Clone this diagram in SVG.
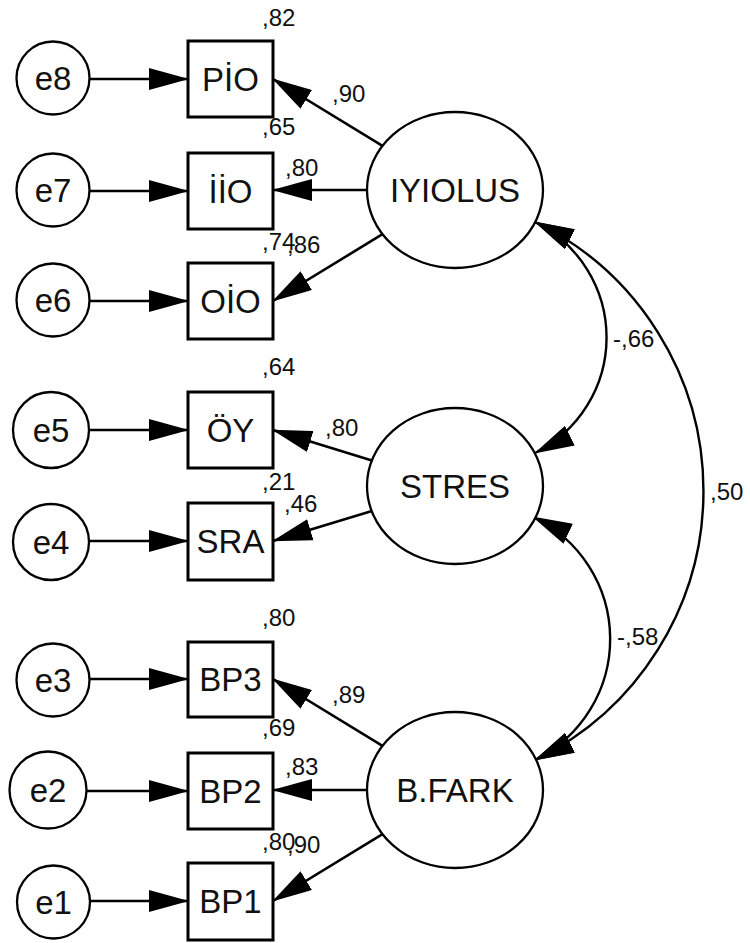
<svg xmlns="http://www.w3.org/2000/svg" width="750" height="943" viewBox="0 0 750 943">
<style>
.bg{fill:#fff}
.err{fill:#fff;stroke:#000;stroke-width:2.3}
.box{fill:#fff;stroke:#000;stroke-width:3}
.lat{fill:#fff;stroke:#000;stroke-width:2.3}
.lbl{font-family:"Liberation Sans",Arial,sans-serif;font-size:33px;fill:#111;text-anchor:middle}
.num{font-family:"Liberation Sans",Arial,sans-serif;font-size:24px;fill:#111}
.ln{fill:none;stroke:#000;stroke-width:2.6}
.cv{fill:none;stroke:#000;stroke-width:2.4}
</style>
<defs>
<marker id="ah" markerUnits="userSpaceOnUse" markerWidth="40" markerHeight="22" refX="39" refY="11" orient="auto-start-reverse" viewBox="0 0 40 22">
<path d="M0,0 L40,11 L0,22 Z" fill="#000"/>
</marker>
</defs>
<rect class="bg" x="0" y="0" width="750" height="943"/>
<g id="connectors">
<line class="ln" x1="90" y1="79" x2="188" y2="79" marker-end="url(#ah)"/>
<line class="ln" x1="90" y1="191" x2="188" y2="191" marker-end="url(#ah)"/>
<line class="ln" x1="90" y1="301" x2="188" y2="301" marker-end="url(#ah)"/>
<line class="ln" x1="90" y1="430" x2="188" y2="430" marker-end="url(#ah)"/>
<line class="ln" x1="90" y1="541" x2="188" y2="541" marker-end="url(#ah)"/>
<line class="ln" x1="90" y1="679" x2="188" y2="679" marker-end="url(#ah)"/>
<line class="ln" x1="87" y1="791" x2="188" y2="791" marker-end="url(#ah)"/>
<line class="ln" x1="90" y1="901" x2="188" y2="901" marker-end="url(#ah)"/>
<line class="ln" x1="382.5" y1="145.8" x2="273" y2="79" marker-end="url(#ah)"/>
<line class="ln" x1="367" y1="190" x2="273" y2="190" marker-end="url(#ah)"/>
<line class="ln" x1="382.5" y1="234.2" x2="273" y2="301" marker-end="url(#ah)"/>
<line class="ln" x1="371.9" y1="460.4" x2="273" y2="430" marker-end="url(#ah)"/>
<line class="ln" x1="371.9" y1="511.1" x2="273" y2="541" marker-end="url(#ah)"/>
<line class="ln" x1="382.5" y1="745.8" x2="273" y2="679" marker-end="url(#ah)"/>
<line class="ln" x1="367" y1="790" x2="273" y2="790" marker-end="url(#ah)"/>
<line class="ln" x1="382.5" y1="834.2" x2="273" y2="901" marker-end="url(#ah)"/>
<path class="cv" d="M535,222 A129,129 0 0 1 535,453" marker-start="url(#ah)" marker-end="url(#ah)"/>
<path class="cv" d="M533,517 A135,135 0 0 1 535,760" marker-start="url(#ah)" marker-end="url(#ah)"/>
<path class="cv" d="M535,222 A299,299 0 0 1 535,760" marker-start="url(#ah)" marker-end="url(#ah)"/>
</g>
<g id="e8"><circle class="err" cx="53" cy="78" r="36.5"/><text class="lbl" x="53" y="90">e8</text></g>
<g id="e7"><circle class="err" cx="53" cy="190" r="36.5"/><text class="lbl" x="53" y="202">e7</text></g>
<g id="e6"><circle class="err" cx="53" cy="300" r="36.5"/><text class="lbl" x="53" y="312">e6</text></g>
<g id="e5"><circle class="err" cx="51" cy="430" r="38"/><text class="lbl" x="51" y="442">e5</text></g>
<g id="e4"><circle class="err" cx="51" cy="542" r="38"/><text class="lbl" x="51" y="554">e4</text></g>
<g id="e3"><circle class="err" cx="53" cy="680" r="36.5"/><text class="lbl" x="53" y="692">e3</text></g>
<g id="e2"><circle class="err" cx="48" cy="790" r="38.5"/><text class="lbl" x="48" y="802">e2</text></g>
<g id="e1"><circle class="err" cx="53.5" cy="902" r="36.5"/><text class="lbl" x="53.5" y="914">e1</text></g>
<g id="PIO"><rect class="box" x="188" y="41" width="85" height="76"/><text class="lbl" x="230.5" y="91">PİO</text></g>
<g id="IIO"><rect class="box" x="188" y="153" width="85" height="76"/><text class="lbl" x="230.5" y="203">İİO</text></g>
<g id="OIO"><rect class="box" x="188" y="263" width="85" height="76"/><text class="lbl" x="230.5" y="313">OİO</text></g>
<g id="OY"><rect class="box" x="188" y="392" width="85" height="76"/><text class="lbl" x="230.5" y="442">ÖY</text></g>
<g id="SRA"><rect class="box" x="188" y="503" width="85" height="77"/><text class="lbl" x="230.5" y="553">SRA</text></g>
<g id="BP3"><rect class="box" x="188" y="642" width="85" height="75"/><text class="lbl" x="230.5" y="691">BP3</text></g>
<g id="BP2"><rect class="box" x="188" y="753" width="85" height="76"/><text class="lbl" x="230.5" y="803">BP2</text></g>
<g id="BP1"><rect class="box" x="188" y="863" width="85" height="77"/><text class="lbl" x="230.5" y="913">BP1</text></g>
<g id="IYIOLUS"><ellipse class="lat" cx="455" cy="190" rx="88" ry="78"/><text class="lbl" x="455" y="202">IYIOLUS</text></g>
<g id="STRES"><ellipse class="lat" cx="455" cy="486" rx="88" ry="78"/><text class="lbl" x="455" y="498">STRES</text></g>
<g id="BFARK"><ellipse class="lat" cx="455" cy="790" rx="88" ry="78"/><text class="lbl" x="455" y="802">B.FARK</text></g>
<g id="labels">
<text class="num" x="262" y="26">,82</text>
<text class="num" x="332" y="102">,90</text>
<text class="num" x="262" y="135">,65</text>
<text class="num" x="285" y="176">,80</text>
<text class="num" x="262" y="250">,74</text>
<text class="num" x="287" y="253">,86</text>
<text class="num" x="262" y="375">,64</text>
<text class="num" x="325" y="436">,80</text>
<text class="num" x="262" y="490">,21</text>
<text class="num" x="284" y="512">,46</text>
<text class="num" x="262" y="626">,80</text>
<text class="num" x="332" y="703">,89</text>
<text class="num" x="262" y="736">,69</text>
<text class="num" x="285" y="775">,83</text>
<text class="num" x="262" y="850">,80</text>
<text class="num" x="287" y="853">,90</text>
<text class="num" x="613" y="347">-,66</text>
<text class="num" x="617" y="645">-,58</text>
<text class="num" x="710" y="500">,50</text>
</g>
</svg>
